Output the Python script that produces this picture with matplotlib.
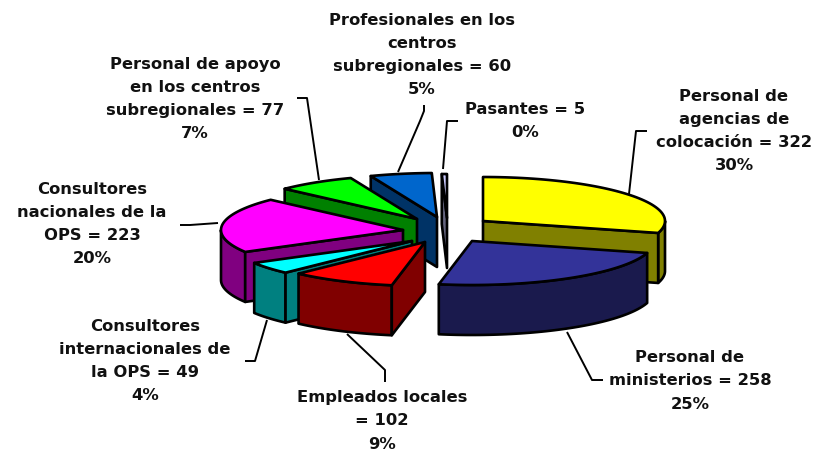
import numpy as np
import matplotlib
matplotlib.use('Agg')
import matplotlib.pyplot as plt

names = ['Personal de\nagencias de\ncolocación', 'Personal de\nministerios', 'Empleados locales\n',
         'Consultores\ninternacionales de\nla OPS', 'Consultores\nnacionales de la\nOPS',
         'Personal de apoyo\nen los centros\nsubregionales', 'Profesionales en los\ncentros\nsubregionales',
         'Pasantes']
values = [322, 258, 102, 49, 223, 77, 60, 5]
percents = [30, 25, 9, 4, 20, 7, 5, 0]

top_colors = ['#FFFF00', '#333399', '#FF0000', '#00FFFF', '#FF00FF', '#00FF00', '#0066CC', '#CCCCFF']
side_colors = ['#808000', '#1A1A4D', '#800000', '#008080', '#800080', '#008000', '#003366', '#666680']

# apex of every exploded slice, in pixels
apex = [(483, 222), (472, 242), (425, 243), (412, 242), (403, 231), (417, 220), (437, 218), (447, 219)]
label_pos = [(734, 131), (690, 381), (382, 421), (145, 361), (92, 224), (195, 99), (422, 55), (525, 121)]
leaders = [
    [(629, 195), (636, 132), (647, 132)],
    [(567, 333), (592, 381), (603, 381)],
    [(347, 335), (385, 371), (385, 383)],
    [(267, 321), (255, 362), (245, 362)],
    [(218, 224), (190, 226), (180, 226)],
    [(319, 181), (307, 99), (297, 99)],
    [(398, 173), (420, 122), (424, 112), (424, 106)],
    [(443, 170), (447, 122), (458, 122)],
]
# drawn back to front
order = [0, 7, 6, 5, 4, 3, 2, 1]

RX = 182
RY = 44
DEPTH = 50
LW = 1.9

fig = plt.figure(figsize=(8.2, 4.52), dpi=100)
ax = fig.add_axes([0, 0, 1, 1])
ax.set_xlim(0, 820)
ax.set_ylim(452, 0)
ax.axis('off')


def rim(a, b, c):
    t = np.radians(np.linspace(a, b, 60))
    return np.column_stack([c[0] + RX * np.sin(t), c[1] - RY * np.cos(t)])


def drop(pts):
    return pts + np.array([0, DEPTH])


edges = np.concatenate([[0], np.cumsum(values)]) * 360.0 / sum(values)

for i in order:
    a, b = edges[i], edges[i + 1]
    c = np.array(apex[i], dtype=float)
    arc = rim(a, b, c)
    mid = rim((a + b) / 2, (a + b) / 2, c)[0] - c

    # outer wall, only the part turned towards the viewer
    lo, hi = max(a, 90), min(b, 270)
    if hi > lo:
        wall = rim(lo, hi, c)
        ax.fill(*np.vstack([wall, drop(wall)[::-1]]).T, fc=side_colors[i], ec='k', lw=LW, joinstyle='round')

    # cut faces, drawn when the top of the slice lies above the edge
    for p in (arc[0], arc[-1]):
        d = p - c
        if d[0] * mid[1] - d[1] * mid[0] == 0:
            continue
        if (d[0] * mid[1] - d[1] * mid[0]) * np.sign(d[0]) < 0:
            face = np.array([c, p, p + [0, DEPTH], c + [0, DEPTH]])
            ax.fill(*face.T, fc=side_colors[i], ec='k', lw=LW, joinstyle='round')

    ax.fill(*np.vstack([c, arc]).T, fc=top_colors[i], ec='k', lw=LW, joinstyle='round')

for pts in leaders:
    ax.plot(*np.array(pts).T, color='k', lw=1.4, solid_capstyle='butt')

for name, v, p, pos in zip(names, values, percents, label_pos):
    sep = '= ' if name.endswith('\n') else ' = '
    ax.text(pos[0], pos[1], f'{name}{sep}{v}\n{p}%', ha='center', va='center', multialignment='center',
            family='DejaVu Sans', weight='bold', fontsize=11.8, linespacing=1.68, color='#111111')

fig.savefig('out.png', dpi=100)
